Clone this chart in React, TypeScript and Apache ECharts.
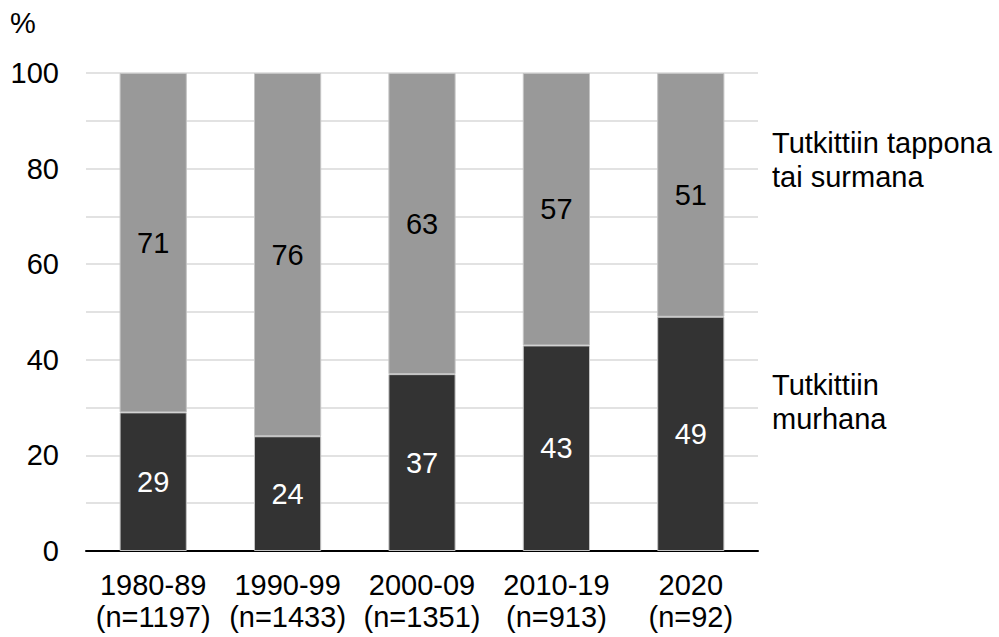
import React, { useEffect, useRef } from "react";
import * as echarts from "echarts";

const categories = [
  "1980-89\n(n=1197)",
  "1990-99\n(n=1433)",
  "2000-09\n(n=1351)",
  "2010-19\n(n=913)",
  "2020\n(n=92)",
];
const murhana = [29, 24, 37, 43, 49];
const tappona = [71, 76, 63, 57, 51];
const seriesNames = ["Tutkittiin murhana", "Tutkittiin tappona tai surmana"];

const FONT = "'Liberation Sans', Arial, sans-serif";
const FS = 29;

export default function App() {
  const ref = useRef<HTMLDivElement>(null);
  useEffect(() => {
    document.body.style.margin = "0";
    const chart = echarts.init(ref.current!, null, { renderer: "svg" });
    chart.setOption({
      animation: false,
      textStyle: { fontFamily: FONT },
      grid: { left: 86, right: 241, top: 73, bottom: 86 },
      xAxis: {
        type: "category",
        data: categories,
        axisLine: { show: true, lineStyle: { color: "#000000", width: 2 } },
        axisTick: { show: false },
        axisLabel: {
          interval: 0,
          color: "#000000",
          fontSize: FS,
          lineHeight: 32,
          margin: 18,
          fontFamily: FONT,
        },
      },
      yAxis: {
        type: "value",
        min: 0,
        max: 100,
        interval: 10,
        axisLine: { show: false },
        axisTick: { show: false },
        splitLine: { show: true, lineStyle: { color: "#d9d9d9", width: 1.5 } },
        axisLabel: {
          color: "#000000",
          fontSize: FS,
          margin: 27,
          fontFamily: FONT,
          formatter: (v: number) => (v % 20 === 0 ? String(v) : ""),
        },
      },
      graphic: [
        { type: "text", left: 10, top: 8, style: { text: "%", fontSize: FS, fill: "#000", fontFamily: FONT } },
        {
          type: "text",
          left: 772,
          top: 126,
          style: { text: "Tutkittiin tappona\ntai surmana", fontSize: FS, lineHeight: 34, fill: "#000", fontFamily: FONT },
        },
        {
          type: "text",
          left: 772,
          top: 368,
          style: { text: "Tutkittiin\nmurhana", fontSize: FS, lineHeight: 34, fill: "#000", fontFamily: FONT },
        },
      ],
      series: [
        {
          name: seriesNames[0],
          type: "bar",
          stack: "total",
          data: murhana,
          barWidth: "50%",
          itemStyle: { color: "#333333", borderColor: "#c4c4c4", borderWidth: 1 },
          label: { show: true, position: "inside", color: "#ffffff", fontSize: FS, fontFamily: FONT },
        },
        {
          name: seriesNames[1],
          type: "bar",
          stack: "total",
          data: tappona,
          barWidth: "50%",
          itemStyle: { color: "#999999", borderColor: "#c4c4c4", borderWidth: 1 },
          label: { show: true, position: "inside", color: "#000000", fontSize: FS, fontFamily: FONT },
        },
      ],
    });
    return () => chart.dispose();
  }, []);
  return <div ref={ref} style={{ width: 999, height: 637 }} />;
}
